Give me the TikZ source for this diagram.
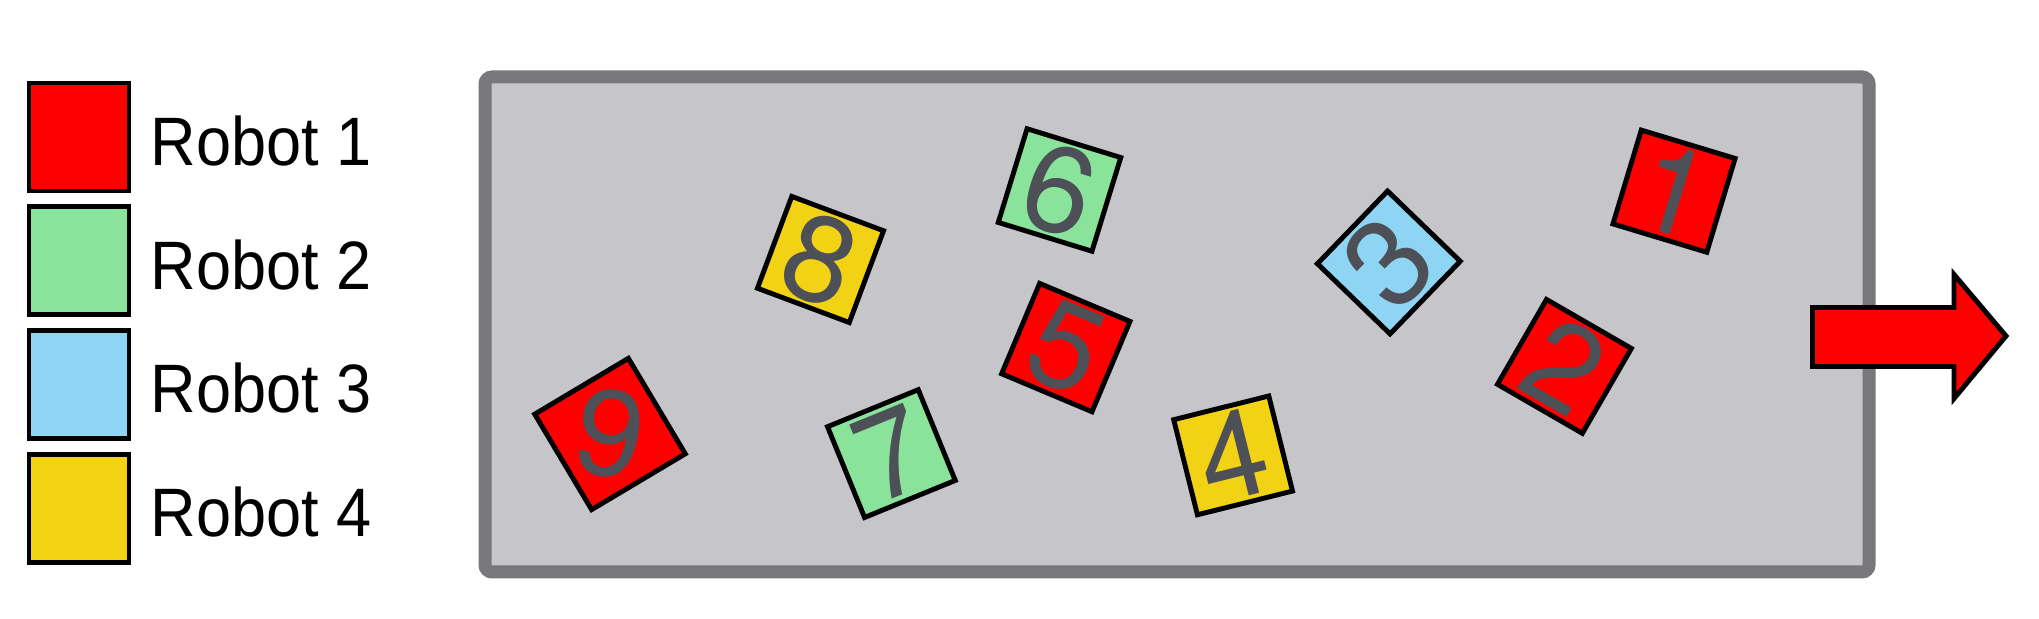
\documentclass[tikz,border=0pt]{standalone}
\usepackage{graphicx}
\usepackage{fontspec}
\setmainfont{Liberation Sans}
\newfontfamily\partfont{TeX Gyre Heros}
\usetikzlibrary{positioning}

\definecolor{robotred}{HTML}{FF0000}
\definecolor{robotgreen}{HTML}{8AE39B}
\definecolor{robotblue}{HTML}{8ED4F3}
\definecolor{robotyellow}{HTML}{F2D214}
\definecolor{digitgray}{HTML}{4D5057}
\definecolor{traygray}{HTML}{C6C6CA}
\definecolor{trayedge}{HTML}{77777C}

\newcommand{\robotlabel}[1]{\scalebox{0.92}[1]{#1}}

\tikzset{
  legendbox/.style={draw=black,line width=1.4pt,minimum width=1cm,minimum height=1.08cm,inner sep=0pt,outer sep=0pt},
  legendtext/.style={inner sep=0pt,font=\fontsize{19.5}{19.5}\selectfont},
  tile/.style={draw=black,line width=1.4pt,minimum size=0.98cm,inner sep=0pt,text=digitgray,font=\partfont\fontsize{34.7}{34.7}\selectfont}
}

\begin{document}
\begin{tikzpicture}
  \useasboundingbox (0,0) rectangle (20.39,6.19);

  % legend
  \node[legendbox,fill=robotred] (leg1) at (0.79,4.82) {};
  \node[legendbox,fill=robotgreen,below=0.157cm of leg1] (leg2) {};
  \node[legendbox,fill=robotblue,below=0.157cm of leg2] (leg3) {};
  \node[legendbox,fill=robotyellow,below=0.157cm of leg3] (leg4) {};
  \node[legendtext,right=0.21cm of leg1,yshift=-0.04cm] (lab1) {\robotlabel{Robot 1}};
  \node[legendtext,right=0.21cm of leg2,yshift=-0.04cm] (lab2) {\robotlabel{Robot 2}};
  \node[legendtext,right=0.21cm of leg3,yshift=-0.04cm] (lab3) {\robotlabel{Robot 3}};
  \node[legendtext,right=0.21cm of leg4,yshift=-0.04cm] (lab4) {\robotlabel{Robot 4}};

  % tray
  \draw[fill=traygray,draw=trayedge,line width=3.7pt,rounded corners=2pt] (4.85,0.47) rectangle (18.69,5.42);

  % parts
  \node[tile,fill=robotred,rotate=-16.8] (p1) at (16.74,4.278) {1};
  \node[tile,fill=robotred,rotate=-30] (p2) at (15.644,2.526) {2};
  \node[tile,fill=robotblue,rotate=46,minimum size=1.01cm] (p3) at (13.888,3.565) {3};
  \node[tile,fill=robotyellow,rotate=14] (p4) at (12.331,1.636) {4};
  \node[tile,fill=robotred,rotate=-22.8] (p5) at (10.658,2.714) {5};
  \node[tile,fill=robotgreen,rotate=-17.1] (p6) at (10.595,4.29) {6};
  \node[tile,fill=robotgreen,rotate=22.2] (p7) at (8.914,1.654) {7};
  \node[tile,fill=robotyellow,rotate=-20.5] (p8) at (8.205,3.595) {8};
  \node[tile,fill=robotred,rotate=30.8] (p9) at (6.10,1.85) {\rotatebox{-40.8}{9}};

  % outlet
  \draw[fill=robotred,line width=1.4pt,line join=miter] (18.125,2.525) -- (19.54,2.525) -- (19.54,2.205)
    -- (20.06,2.83) -- (19.54,3.445) -- (19.54,3.115) -- (18.125,3.115) -- cycle;
\end{tikzpicture}
\end{document}
